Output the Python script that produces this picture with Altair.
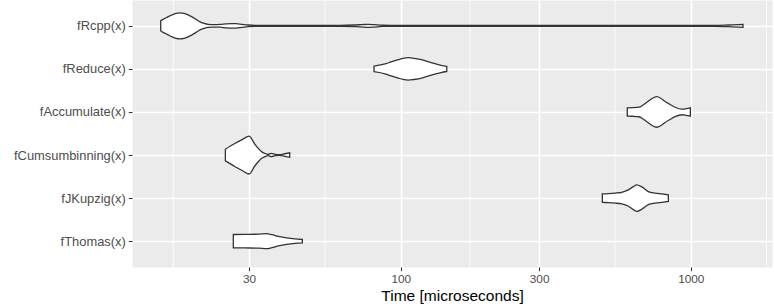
import altair as alt
import pandas as pd

# ---- data -----------------------------------------------------------------
categories = ["fRcpp(x)", "fReduce(x)", "fAccumulate(x)",
              "fCumsumbinning(x)", "fJKupzig(x)", "fThomas(x)"]
positions = [5, 4, 3, 2, 1, 0]

# violin outlines: time (microseconds) and half width (fraction of one category step)
rcpp_time = [14.87, 15.15, 15.64, 16.27, 16.80, 17.34, 17.89, 18.48, 19.07, 19.69,
             20.32, 20.97, 21.65, 22.71, 23.82, 24.98, 26.20, 27.04, 28.37, 29.75,
             31.45, 38.36, 61.77, 69.58, 73.55, 77.13, 80.90, 86.2, 99.4, 486.6,
             1213, 1345, 1456, 1514]
rcpp_half = [0.116, 0.151, 0.197, 0.255, 0.290, 0.302, 0.290, 0.255, 0.209, 0.151,
             0.093, 0.058, 0.035, 0.028, 0.032, 0.046, 0.053, 0.051, 0.035, 0.019,
             0.012, 0.009, 0.009, 0.019, 0.028, 0.035, 0.028, 0.014, 0.009, 0.009,
             0.009, 0.019, 0.030, 0.035]

reduce_time = [80.9, 88.3, 92.6, 98.1, 101.8, 106.2, 111.1, 118.1, 124.2, 131.3, 137.7, 144.1]
reduce_half = [0.065, 0.116, 0.162, 0.213, 0.244, 0.262, 0.246, 0.213, 0.167, 0.121, 0.084, 0.060]

accum_time = [604.3, 632.4, 663.2, 684.6, 714.1, 735.4, 763.4, 790.0, 815.5, 848.5,
              883.0, 931.1, 963.4, 996.8]
accum_half = [0.097, 0.100, 0.111, 0.162, 0.251, 0.313, 0.355, 0.313, 0.244, 0.174,
              0.109, 0.065, 0.077, 0.097]

cumsum_time = [24.85, 26.77, 28.59, 29.99, 31.38, 32.20, 33.06, 33.96, 34.86, 35.79,
               36.94, 38.26, 39.81, 41.42]
cumsum_half = [0.135, 0.267, 0.371, 0.441, 0.255, 0.162, 0.081, 0.039, 0.016, 0.039,
               0.016, 0.009, 0.030, 0.053]

jkupzig_time = [495.6, 519.8, 548.3, 578.2, 609.3, 634.0, 651.4, 677.7, 714.1, 753.1,
                794.3, 837.1]
jkupzig_half = [0.097, 0.104, 0.116, 0.135, 0.190, 0.267, 0.309, 0.260, 0.151, 0.116,
                0.097, 0.077]

thomas_time = [26.47, 29.05, 32.28, 34.51, 35.92, 37.85, 40.45, 43.20, 45.78]
thomas_half = [0.155, 0.158, 0.162, 0.174, 0.151, 0.111, 0.074, 0.051, 0.039]

x_breaks = [30, 100, 300, 1000]
x_minor = [16.43, 54.77, 173.2, 547.7, 1826]
x_limits = [11.84, 1906]

# ---- build table -----------------------------------------------------------
series = [(rcpp_time, rcpp_half), (reduce_time, reduce_half), (accum_time, accum_half),
          (cumsum_time, cumsum_half), (jkupzig_time, jkupzig_half),
          (thomas_time, thomas_half)]
rows = []
for name, pos, (ts, hs) in zip(categories, positions, series):
    for t, h in zip(ts, hs):
        rows.append({"name": name, "pos": pos, "time": t, "half": h})
df = pd.DataFrame(rows)
minor_df = pd.DataFrame({"v": x_minor})

label_lookup = [""] * len(categories)
for name, pos in zip(categories, positions):
    label_lookup[pos] = name
label_expr = "[" + ",".join("'" + s + "'" for s in label_lookup) + "][datum.value]"

FONT = "Liberation Sans"
x_scale = alt.Scale(type="log", domain=x_limits, nice=False)
y_scale = alt.Scale(domain=[-0.6, 5.6], nice=False, zero=False)

x_axis = alt.Axis(values=x_breaks, format="d", title="Time [microseconds]",
                  grid=True, gridColor="white", gridWidth=1.6,
                  domain=False, tickColor="#333333", tickSize=3.7, tickWidth=1.07,
                  labelColor="#4D4D4D", labelFont=FONT, labelFontSize=11.8,
                  labelPadding=2.5, titleFont=FONT, titleFontSize=15.5,
                  titleFontWeight="normal", titleColor="black", titlePadding=3.5)

minor = alt.Chart(minor_df).mark_rule(color="white", strokeWidth=0.8).encode(
    x=alt.X("v:Q", scale=x_scale, axis=x_axis)
)

violins = alt.Chart(df).transform_calculate(
    lo="datum.pos - datum.half", hi="datum.pos + datum.half"
).mark_area(
    fill="white", stroke="#333333", strokeWidth=1.3, interpolate="monotone",
    opacity=1, orient="vertical"
).encode(
    x=alt.X("time:Q", scale=x_scale, axis=x_axis),
    y=alt.Y("lo:Q", scale=y_scale,
            axis=alt.Axis(values=positions, labelExpr=label_expr, title="",
                          grid=True, gridColor="white", gridWidth=1.6,
                          domain=False, tickColor="#333333", tickSize=3.7, tickWidth=1.07,
                          labelColor="#4D4D4D", labelFont=FONT, labelFontSize=12.9,
                          labelPadding=3)),
    y2="hi:Q",
    detail="name:N",
)

chart = alt.layer(minor, violins).properties(
    width=640, height=267,
    autosize=alt.AutoSizeParams(type="none"),
    padding={"left": 132, "top": 0, "right": 2, "bottom": 41},
    background="white",
).configure_view(fill="#EBEBEB", stroke="transparent")

chart.save("out.html", embed_options={"renderer": "svg", "actions": False})
